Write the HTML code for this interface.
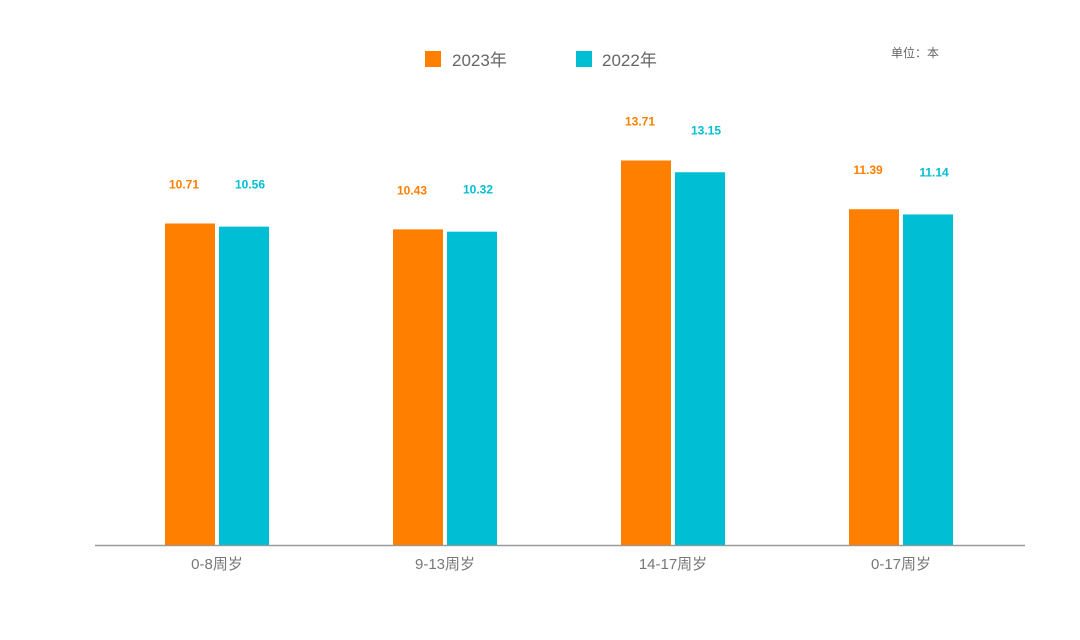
<!DOCTYPE html>
<html><head><meta charset="utf-8">
<style>
html,body{margin:0;padding:0;background:#fff;}
body{width:1080px;height:635px;overflow:hidden;font-family:"Liberation Sans","Noto Sans CJK SC",sans-serif;}
</style></head>
<body>
<svg id="chart" width="1080" height="635" xmlns="http://www.w3.org/2000/svg" font-family="Liberation Sans, Noto Sans CJK SC, sans-serif">
  <g>
    <rect x="425" y="51" width="16" height="16" fill="#FF7F00"/>
    <text x="452" y="66" font-size="17" fill="#666">2023年</text>
    <rect x="576" y="51" width="16" height="16" fill="#00BFD4"/>
    <text x="602" y="66" font-size="17" fill="#666">2022年</text>
  </g>
  <text x="891" y="57" font-size="12" fill="#666">单位：本</text>
  <line x1="95" y1="545.5" x2="1025" y2="545.5" stroke="#999" stroke-width="1.5"/>
  <g id="bars"></g>
</svg>
<script>
const categories = ["0-8周岁","9-13周岁","14-17周岁","0-17周岁"];
const values2023 = [10.71, 10.43, 13.71, 11.39];
const values2022 = [10.56, 10.32, 13.15, 11.14];
const labels2023 = ["10.71","10.43","13.71","11.39"];
const labels2022 = ["10.56","10.32","13.15","11.14"];

const baseY = 545, kScale = 21, vMin = -4.6;
function yScale(v){ return baseY - (v - vMin) * kScale; }
function xCenter(i){ return 217 + i * 228; }
const barW = 50, gap = 4;
const NS = "http://www.w3.org/2000/svg";
const g = document.getElementById('bars');
function mk(tag, attrs){ const e = document.createElementNS(NS, tag); for (const k in attrs) e.setAttribute(k, attrs[k]); return e; }

categories.forEach((c, i) => {
  const cx = xCenter(i);
  const y1 = yScale(values2023[i]);
  const r1 = mk('rect', {x: cx - gap/2 - barW, y: y1, width: barW, height: baseY - y1, fill: '#FF7F00'});
  
  
  g.appendChild(r1);
  const t1 = mk('text', {x: cx - gap/2 - barW/2 - 6, y: y1 - 35, 'font-size': 12, 'font-weight': 'bold', fill: '#FF7F00', 'text-anchor': 'middle'});
  t1.textContent = labels2023[i];
  
  
  g.appendChild(t1);

  const y2 = yScale(values2022[i]);
  const r2 = mk('rect', {x: cx + gap/2, y: y2, width: barW, height: baseY - y2, fill: '#00BFD4'});
  
  
  g.appendChild(r2);
  const t2 = mk('text', {x: cx + gap/2 + barW/2 + 6, y: y2 - 38, 'font-size': 12, 'font-weight': 'bold', fill: '#00BFD4', 'text-anchor': 'middle'});
  t2.textContent = labels2022[i];
  
  
  g.appendChild(t2);

  const ct = mk('text', {x: cx, y: 569, 'font-size': 15, fill: '#777', 'text-anchor': 'middle'});
  ct.textContent = c;
  
  
  g.appendChild(ct);
});
</script>
</body></html>
